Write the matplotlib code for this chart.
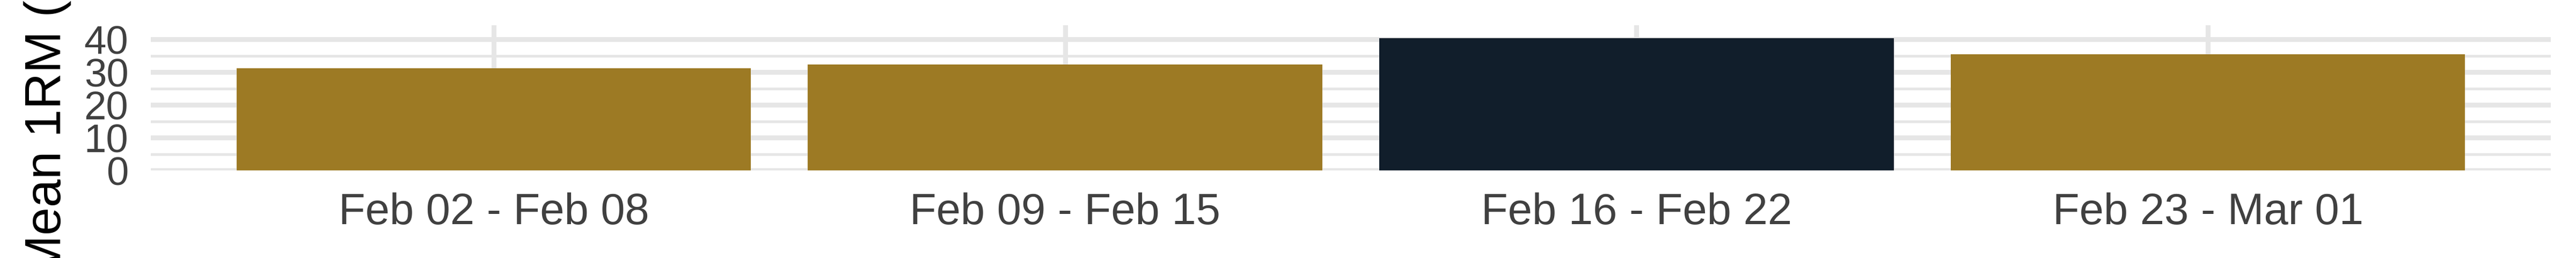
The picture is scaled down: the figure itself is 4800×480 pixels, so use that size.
import matplotlib
matplotlib.use("Agg")
import matplotlib.pyplot as plt
from matplotlib.ticker import MultipleLocator

weeks = ["Feb 02 - Feb 08", "Feb 09 - Feb 15", "Feb 16 - Feb 22", "Feb 23 - Mar 01"]
mean_1rm = [31.1, 32.3, 40.3, 35.4]
highlight_week = "Feb 16 - Feb 22"
y_ticks = [0, 10, 20, 30, 40]
y_label = "Mean 1RM (lbs)"

GOLD = "#9D7A24"
NAVY = "#111E2B"
GRID = "#E6E6E6"
TICK_COLOR = "#404040"

plt.rcParams["font.family"] = ["Liberation Sans", "DejaVu Sans"]

DPI = 100
fig = plt.figure(figsize=(48, 4.8), dpi=DPI)
W, H = 4800, 480
left_px, right_px, top_px, bottom_px = 281, 4753, 46.7, 317.4
ax = fig.add_axes([left_px / W, 1 - bottom_px / H, (right_px - left_px) / W, (bottom_px - top_px) / H])

x = list(range(len(weeks)))
colors = [NAVY if w == highlight_week else GOLD for w in weeks]
ax.bar(x, mean_1rm, width=0.9, color=colors, zorder=3, linewidth=0)

ax.set_xlim(-0.6, len(weeks) - 0.4)
ax.set_ylim(0, max(mean_1rm) * 1.1)
ax.set_xticks(x)
ax.set_xticklabels(weeks)
ax.set_yticks(y_ticks)
ax.yaxis.set_minor_locator(MultipleLocator(5))

ax.grid(axis="both", which="major", color=GRID, linewidth=6.5, zorder=0)
ax.grid(axis="y", which="minor", color=GRID, linewidth=3.6, zorder=0)
ax.set_axisbelow(True)
for s in ax.spines.values():
    s.set_visible(False)

ax.tick_params(axis="both", which="both", length=0)
ax.tick_params(axis="y", labelsize=53.6, labelcolor=TICK_COLOR, pad=30)
ax.tick_params(axis="x", labelsize=58.6, labelcolor=TICK_COLOR, pad=29.5)

fig.text(113 / W, 1 - ((top_px + bottom_px) / 2) / H, y_label, rotation=90,
         rotation_mode="anchor", ha="center", va="baseline", fontsize=67.4, color="black")

fig.savefig("out.png", dpi=DPI, facecolor="white")
